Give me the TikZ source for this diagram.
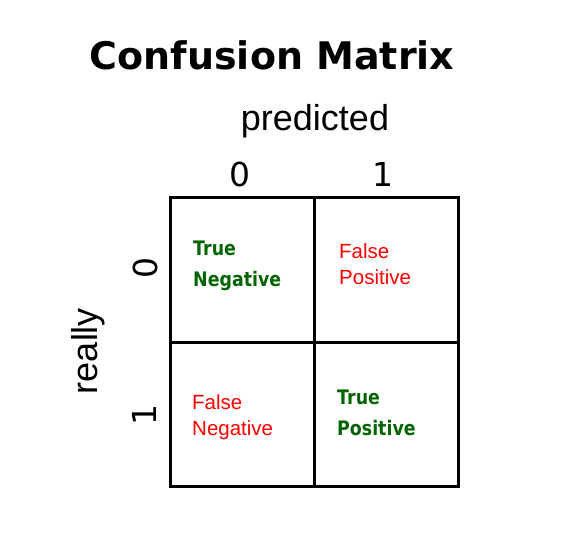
\documentclass[tikz,border=0pt]{standalone}
\usepackage{xcolor}
\usepackage{fontspec}
\usepackage{tikz}
\usetikzlibrary{positioning}
\setmainfont{Liberation Sans}
\newfontfamily\titlefont{DejaVu Sans}
\newfontfamily\cellfont[FakeStretch=0.87]{DejaVu Sans}
\definecolor{truegreen}{RGB}{0,100,0}
\definecolor{falsered}{RGB}{255,0,0}

\begin{document}
\begin{tikzpicture}[x=1pt, y=-1pt,
		cell/.style={rectangle, draw, line width=3pt, minimum size=144pt, inner sep=0pt},
		axis/.style={inner sep=0pt, font=\fontsize{36}{40}\selectfont},
		digit/.style={inner sep=0pt, font=\titlefont\fontsize{33}{40}\selectfont},
		goodcell/.style={inner sep=0pt, align=left, text=truegreen, anchor=base west, font=\cellfont\bfseries\fontsize{20}{31}\selectfont},
		badcell/.style={inner sep=0pt, align=left, text=falsered, anchor=base west, font=\fontsize{20.5}{26}\selectfont}]
			\useasboundingbox (0,0) rectangle (576,540);
			% Title and axis labels
			\node[inner sep=0pt, anchor=base, font=\titlefont\bfseries\fontsize{38}{40}\selectfont] (title) at (272,70) {Confusion Matrix};
			\node[axis, anchor=base] (pred) at (315,131) {predicted};
			\node[axis, anchor=base, rotate=90] (real) at (97,351) {really};
			\node[digit, anchor=base] (p0) at (240,187) {0};
			\node[digit, anchor=base] (p1) at (383,187) {1};
			\node[digit, anchor=base, rotate=90] (r0) at (157,268) {0};
			\node[digit, anchor=base, rotate=90] (r1) at (156,415) {1};
			% Cells
			\node[cell] (00) at (242,270) {};
			\node[cell] (01) at (386,270) {};
			\node[cell] (10) at (242,414) {};
			\node[cell] (11) at (386,414) {};
			% Cell texts (anchored at the last line)
			\node[goodcell] (tn) at (193,287) {True\\Negative};
			\node[badcell] (fp) at (339,285) {False\\Positive};
			\node[badcell] (fn) at (192,435) {False\\Negative};
			\node[goodcell] (tp) at (337,435) {True\\Positive};
		\end{tikzpicture}
\end{document}
